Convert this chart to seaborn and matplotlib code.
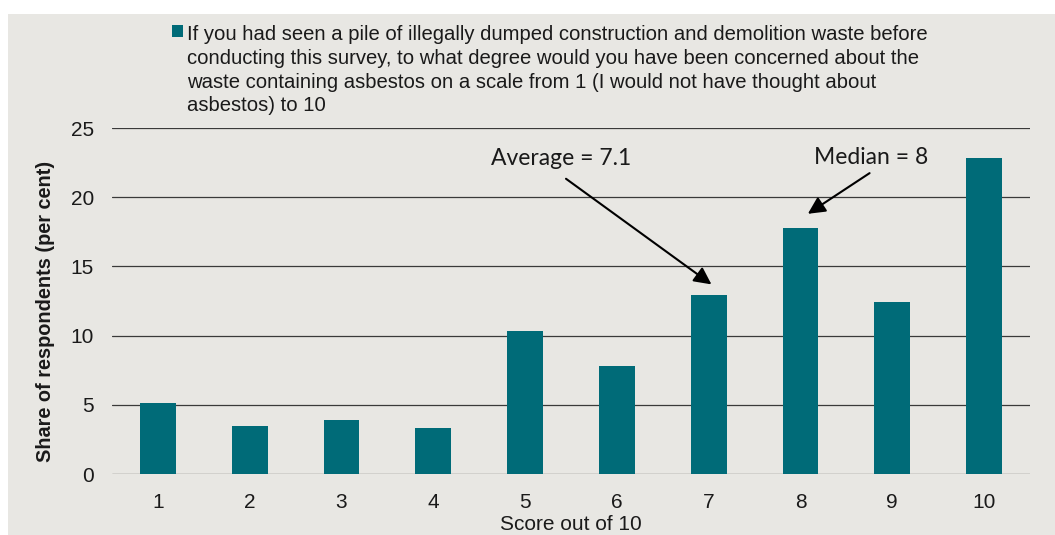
import matplotlib
matplotlib.use('Agg')
import matplotlib.pyplot as plt
from matplotlib.patches import Rectangle
import seaborn as sns
import pandas as pd

# data
scores = ['1', '2', '3', '4', '5', '6', '7', '8', '9', '10']
share = [5.1, 3.5, 3.9, 3.3, 10.3, 7.8, 12.9, 17.8, 12.4, 22.8]
series_label = ('If you had seen a pile of illegally dumped construction and demolition waste before\n'
                'conducting this survey, to what degree would you have been concerned about the\n'
                'waste containing asbestos on a scale from 1 (I would not have thought about\n'
                'asbestos) to 10')
y_ticks = [0, 5, 10, 15, 20, 25]

bar_color = '#006B78'
panel_color = '#E8E7E3'
grid_color = '#3a3a3a'
text_color = '#1a1a1a'

sns.set_style('white')
plt.rcParams['font.family'] = ['Liberation Sans', 'DejaVu Sans']

df = pd.DataFrame({'score': scores, 'share': share})

fig = plt.figure(figsize=(10.55, 5.35), dpi=100)
fig.patch.set_facecolor('white')
# grey chart panel
fig.patches.append(Rectangle((8 / 1055, 0), 1, 1 - 14 / 535, transform=fig.transFigure,
                             facecolor=panel_color, edgecolor='none', zorder=-10))

ax = fig.add_axes([112 / 1055, 1 - 474 / 535, 918 / 1055, 346 / 535])
ax.set_facecolor('none')

sns.barplot(data=df, x='score', y='share', color=bar_color, width=0.39,
            saturation=1, linewidth=0, ax=ax, label=series_label, zorder=3)

ax.set_ylim(0, 25)
ax.set_xlim(-0.5, 9.5)
ax.set_yticks(y_ticks)
for v in y_ticks:
    ax.axhline(v, color=grid_color, lw=0.9, zorder=1)
for s in ax.spines.values():
    s.set_visible(False)
ax.tick_params(axis='both', length=0, labelsize=15, colors=text_color)
ax.tick_params(axis='y', pad=13)
ax.tick_params(axis='x', pad=14)

ax.set_xlabel('Score out of 10', fontsize=15, color=text_color)
ax.xaxis.set_label_coords(0.5, -0.118)
ax.set_ylabel('Share of respondents (per cent)', fontsize=14.3, fontweight='bold', color=text_color)
ax.yaxis.set_label_coords(-0.062, 0.47)

# annotations
arrow = dict(arrowstyle='-|>', color='black', lw=1.5, mutation_scale=26, shrinkB=0)
ax.annotate('Average = 7.1', xy=(6.03, 13.7), xytext=(4.39, 22.8),
            ha='center', va='center', fontsize=16.5, family=['Lato', 'DejaVu Sans'],
            color=text_color, arrowprops=dict(arrow, shrinkA=8, relpos=(0.44, 0)))
ax.annotate('Median = 8', xy=(7.08, 18.8), xytext=(7.77, 22.9),
            ha='center', va='center', fontsize=16.5, family=['Lato', 'DejaVu Sans'],
            color=text_color, arrowprops=dict(arrow, shrinkA=3, relpos=(0.56, 0)))

leg = ax.legend(loc='upper left', bbox_to_anchor=(172 / 1055, 1 - 25 / 535),
                bbox_transform=fig.transFigure, frameon=False, fontsize=14.6,
                handlelength=0.55, handleheight=0.55, handletextpad=0.2,
                borderaxespad=0, borderpad=0)
for t in leg.get_texts():
    t.set_color(text_color)
    t.set_linespacing(1.32)
# put the marker next to the first line, as in the original
for col in leg._legend_handle_box.get_children():
    for row in col.get_children():
        row.align = 'top'

fig.savefig('out.png', dpi=100, facecolor='white')
